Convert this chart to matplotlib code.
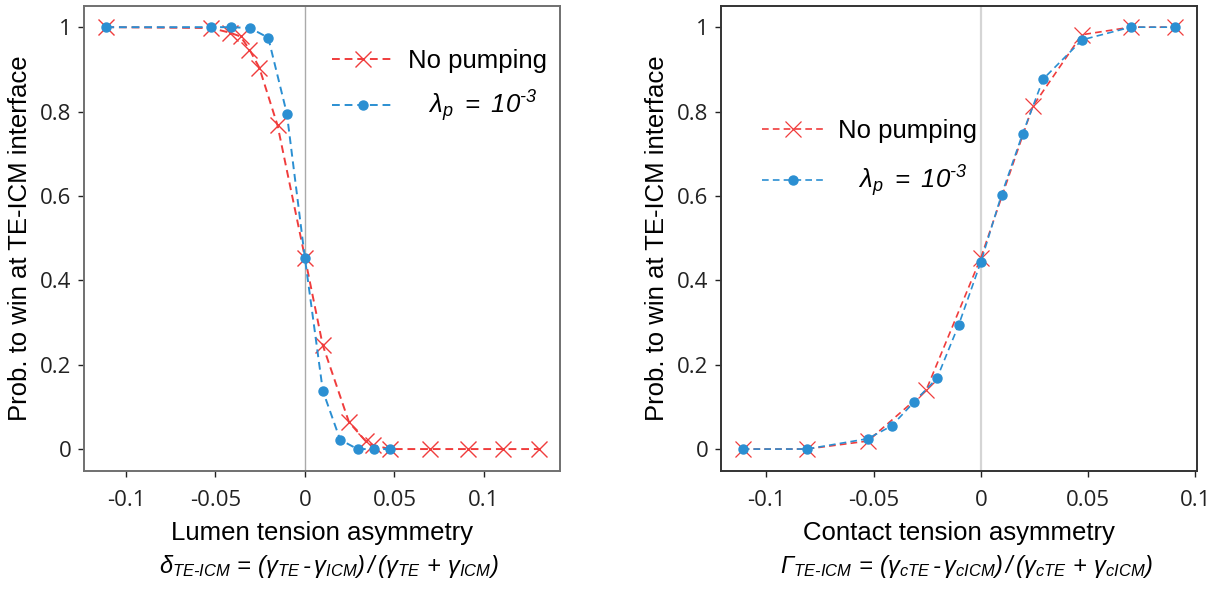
import matplotlib.pyplot as plt
import numpy as np

plt.rcParams['font.family'] = ['Liberation Sans', 'DejaVu Sans']
plt.rcParams['mathtext.fontset'] = 'custom'
plt.rcParams['mathtext.rm'] = 'Liberation Sans:italic'
plt.rcParams['mathtext.it'] = 'Liberation Sans:italic'

# Left panel: lumen tension asymmetry
delta_nopump = [-0.111, -0.0525, -0.042, -0.036, -0.031, -0.0255, -0.0153, 0.0,
                0.0099, 0.0246, 0.0339, 0.038, 0.0475, 0.0698, 0.0909, 0.1108, 0.1309]
prob_nopump_l = [1.0, 0.998, 0.987, 0.978, 0.947, 0.904, 0.767, 0.454,
                 0.247, 0.064, 0.019, 0.0095, 0.0, 0.0, 0.0, 0.0, 0.0]
delta_pump = [-0.111, -0.0527, -0.0415, -0.0307, -0.0205, -0.0101, 0.0,
              0.01, 0.0197, 0.0294, 0.0384, 0.0477]
prob_pump_l = [1.0, 1.0, 1.0, 0.998, 0.975, 0.795, 0.452,
               0.138, 0.022, 0.0, 0.0, 0.0]

# Right panel: contact tension asymmetry
gamma_nopump = [-0.1111, -0.0813, -0.0528, -0.0256, 0.0, 0.0241, 0.047, 0.0698, 0.0906]
prob_nopump_r = [0.0, 0.0, 0.019, 0.139, 0.454, 0.812, 0.982, 1.0, 1.0]
gamma_pump = [-0.1111, -0.0813, -0.0528, -0.0416, -0.0311, -0.0205, -0.0104, 0.0,
              0.0096, 0.0194, 0.029, 0.0472, 0.0698, 0.0906]
prob_pump_r = [0.0, 0.0, 0.0245, 0.055, 0.112, 0.168, 0.294, 0.444,
               0.603, 0.747, 0.877, 0.970, 1.0, 1.0]

xticks = [-0.1, -0.05, 0, 0.05, 0.1]
xticklabels = ['-0.1', '-0.05', '0', '0.05', '0.1']
yticks = [0, 0.2, 0.4, 0.6, 0.8, 1]
yticklabels = ['0', '0.2', '0.4', '0.6', '0.8', '1']

lab_pump = r'$\lambda_p\ =\ 10^{\text{-}3}$'
formula_l = (r'$\delta_{TE\text{-}ICM}\,=\,(\gamma_{TE}\,\text{-}\,\gamma_{ICM})'
             r'\,/\,(\gamma_{TE}\,+\,\gamma_{ICM})$')
formula_r = (r'$\Gamma_{TE\text{-}ICM}\,=\,(\gamma_{cTE}\,\text{-}\,\gamma_{cICM})'
             r'\,/\,(\gamma_{cTE}\,+\,\gamma_{cICM})$')

red = '#f03c3c'
blue = '#2b8fd2'

fig = plt.figure(figsize=(12.22, 5.90), dpi=100)
ax1 = fig.add_axes([0.0687, 0.2017, 0.3895, 0.788])
ax2 = fig.add_axes([0.590, 0.2017, 0.3895, 0.788])


def style(ax, xlim, spine_col, zero_col, zero_lw):
    ax.axvline(0, color=zero_col, lw=zero_lw, zorder=0)
    ax.set_xlim(*xlim)
    ax.set_ylim(-0.052, 1.05)
    ax.set_xticks(xticks)
    ax.set_xticklabels(xticklabels, family='Open Sans', fontsize=16)
    ax.set_yticks(yticks)
    ax.set_yticklabels(yticklabels, family='Open Sans', fontsize=16)
    ax.tick_params(axis='y', direction='out', length=4, width=1, pad=5, colors='#222222')
    ax.tick_params(axis='x', direction='out', length=4, width=1, pad=10, colors='#222222')
    for s in ax.spines.values():
        s.set_color(spine_col)
        s.set_linewidth(1.4)
    ax.set_ylabel('Prob. to win at TE-ICM interface', fontsize=18.5, labelpad=6)


# left
ax1.plot(delta_nopump, prob_nopump_l, ls='--', color=red, lw=1.4, marker='x',
         ms=11, mew=1.0, label='No pumping', dashes=(4, 2.5))
ax1.plot(delta_pump, prob_pump_l, ls='--', color=blue, lw=1.4, marker='o',
         ms=6.5, label='   ' + lab_pump, dashes=(4, 2.5))
style(ax1, (-0.1235, 0.1425), '#707070', '#aaaaaa', 1.0)
ax1.set_xlabel('Lumen tension asymmetry', fontsize=18.5, labelpad=7)
fig.text(0.0687 + 0.3895 / 2 + 0.006, 0.04, formula_l, fontsize=17, ha='center', va='center')
ax1.legend(loc='upper left', bbox_to_anchor=(0.495, 0.935), frameon=False,
           fontsize=18.5, handlelength=2.4, handletextpad=0.55, labelspacing=0.6,
           borderpad=0)

# right
ax2.plot(gamma_nopump, prob_nopump_r, ls='--', color=red, lw=1.2, marker='x',
         ms=11, mew=0.9, label='No pumping', dashes=(4, 2.5))
ax2.plot(gamma_pump, prob_pump_r, ls='--', color=blue, lw=1.2, marker='o',
         ms=6.5, label='   ' + lab_pump, dashes=(4, 2.5))
style(ax2, (-0.1212, 0.1007), '#333333', '#d5d5d5', 1.6)
ax2.set_xlabel('Contact tension asymmetry', fontsize=18.5, labelpad=7)
fig.text(0.590 + 0.3895 / 2 + 0.006, 0.04, formula_r, fontsize=17, ha='center', va='center')
ax2.legend(loc='upper left', bbox_to_anchor=(0.06, 0.785), frameon=False,
           fontsize=18.5, handlelength=2.4, handletextpad=0.55, labelspacing=0.8,
           borderpad=0)

fig.savefig('out.png', dpi=100)
